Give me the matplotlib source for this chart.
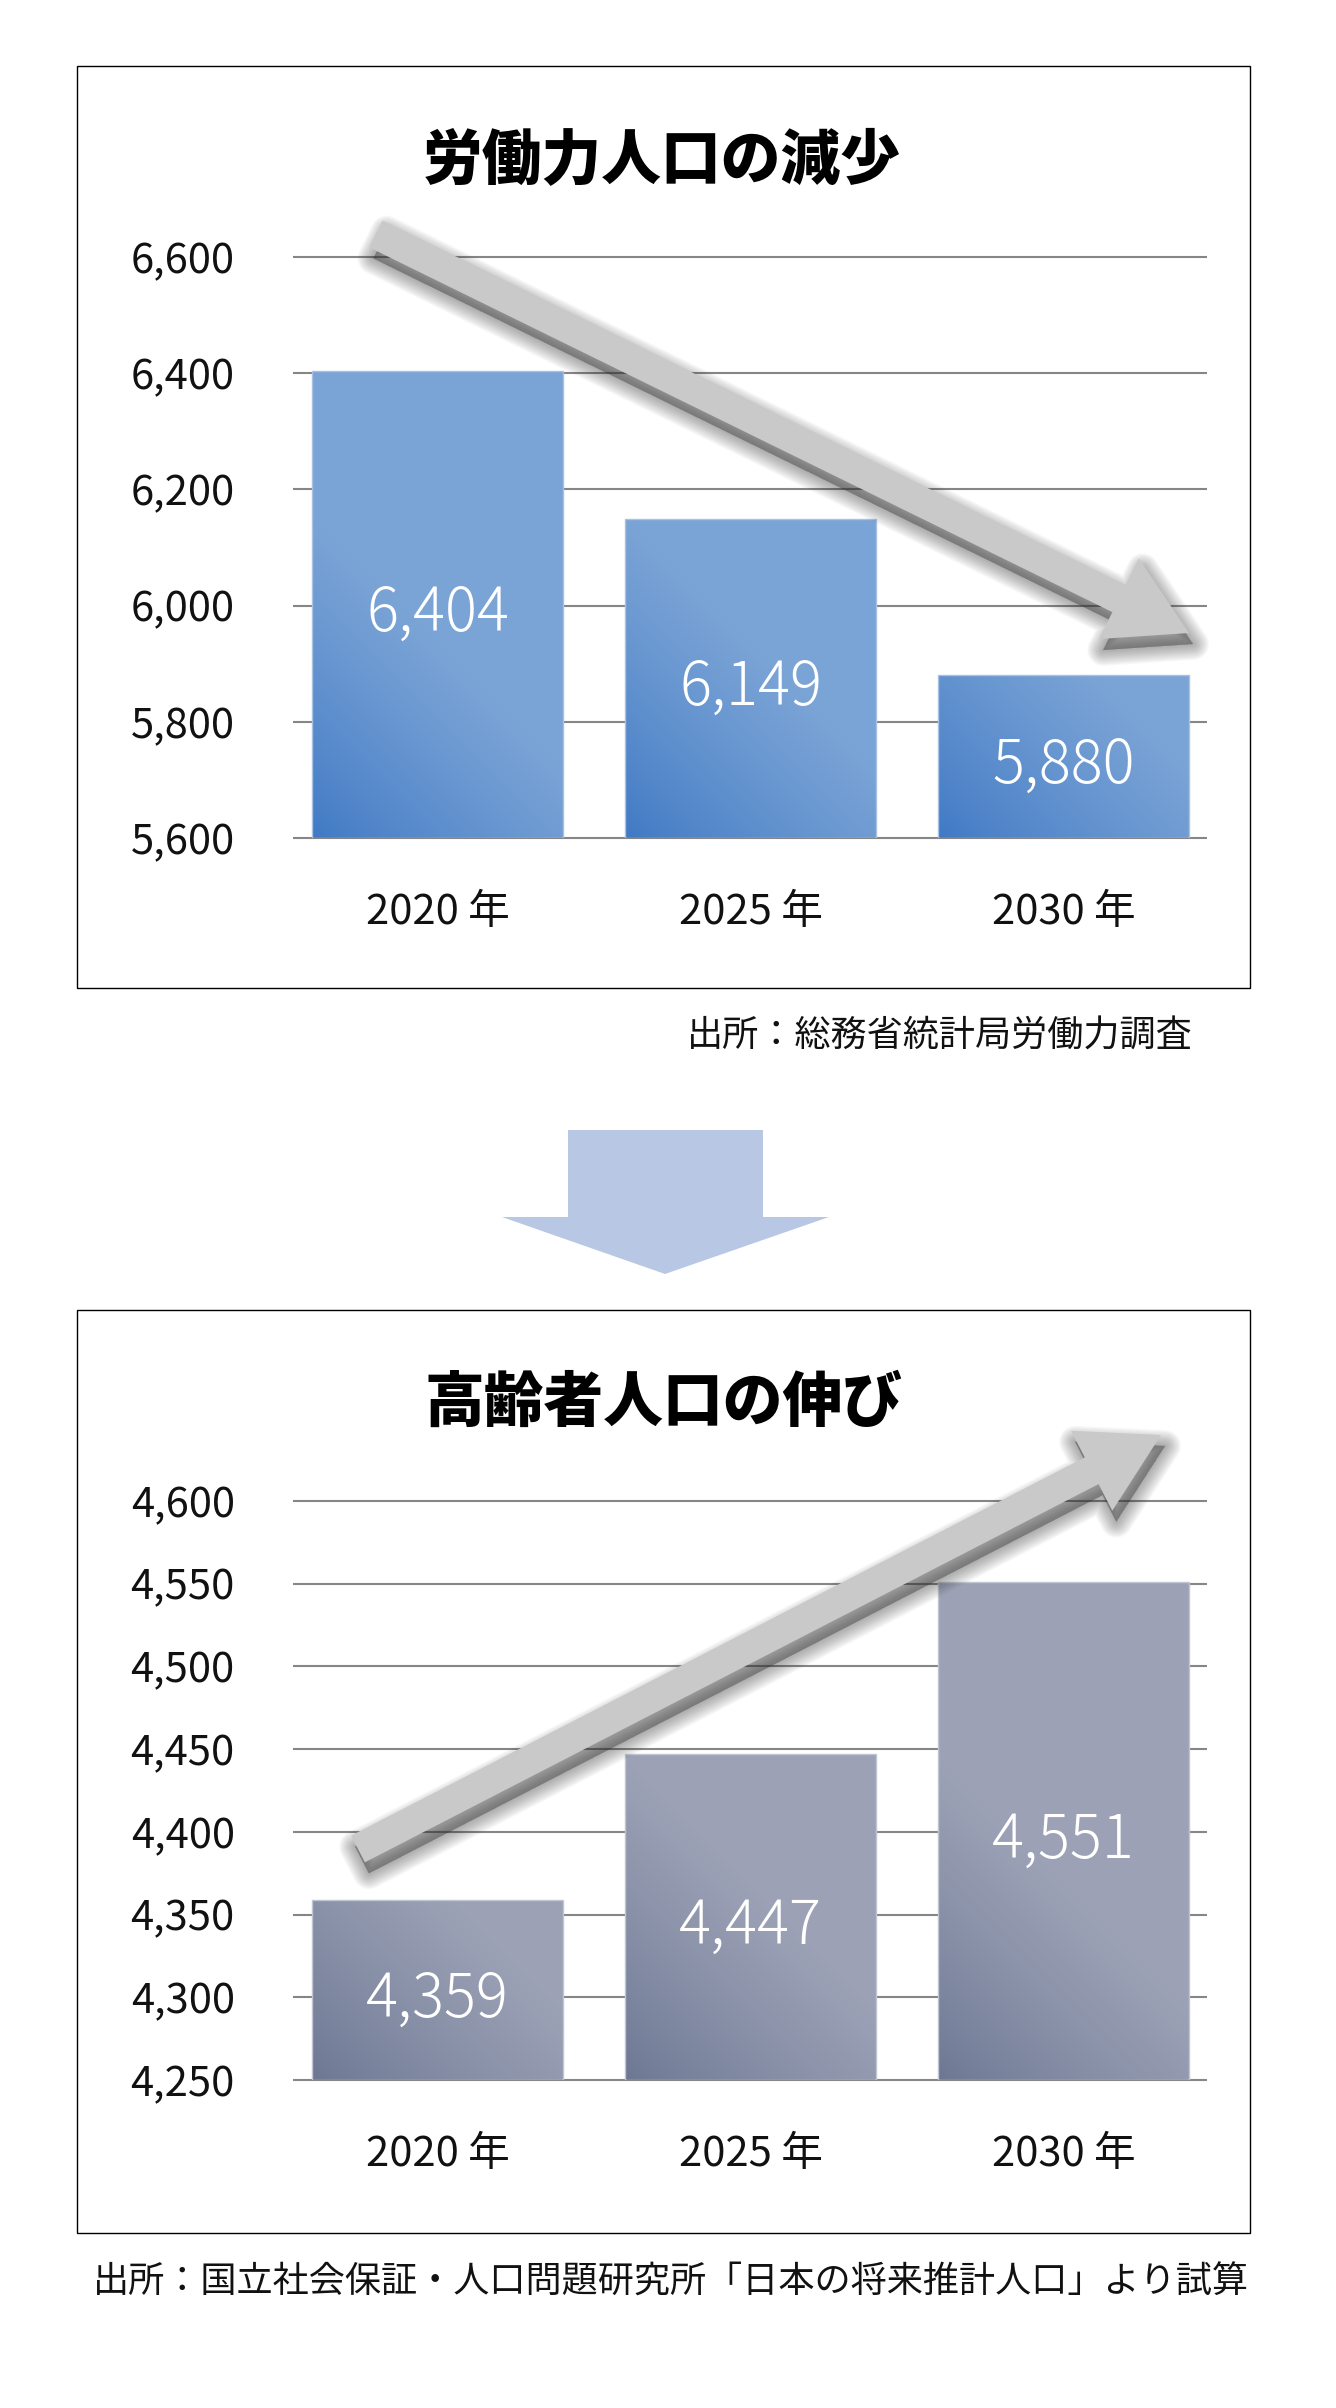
import numpy as np
import matplotlib
matplotlib.use('Agg')
import matplotlib.pyplot as plt
from matplotlib.patches import Polygon, Rectangle
from matplotlib.colors import to_rgb
from matplotlib.transforms import offset_copy

plt.rcParams['font.family'] = ['Noto Sans CJK JP', 'DejaVu Sans']

# data
years = ['2020 年', '2025 年', '2030 年']
labor_force = [6404, 6149, 5880]
labor_ticks = [5600, 5800, 6000, 6200, 6400, 6600]
elderly = [4359, 4447, 4551]
elderly_ticks = [4250, 4300, 4350, 4400, 4450, 4500, 4550, 4600]

title_top = '労働力人口の減少'
title_bottom = '高齢者人口の伸び'
source_top = '出所：総務省統計局労働力調査'
source_bottom = '出所：国立社会保証・人口問題研究所「日本の将来推計人口」より試算'

W, H = 1336, 2408
fig = plt.figure(figsize=(W / 100, H / 100), dpi=100)
fig.patch.set_facecolor('white')


def px_rect(l, t, r, b):
    return [l / W, 1 - b / H, (r - l) / W, (b - t) / H]


def gradient_bars(ax, values, ticks, dark, light, edge):
    base = ticks[0]
    x = np.arange(len(values))
    heights = [v - base for v in values]
    bars = ax.bar(x, heights, bottom=base, width=0.802, facecolor='none',
                  edgecolor=edge, linewidth=1.0, zorder=3)
    ax.set_xlim(-0.4617, len(values) - 1 + 0.4585)
    ax.set_ylim(ticks[0], ticks[-1])
    fig.canvas.draw()
    dark = np.array(to_rgb(dark))
    light = np.array(to_rgb(light))
    for patch in bars:
        x0, y0 = patch.get_x(), patch.get_y()
        x1, y1 = x0 + patch.get_width(), y0 + patch.get_height()
        p0 = ax.transData.transform((x0, y0))
        p1 = ax.transData.transform((x1, y1))
        wpx, hpx = int(abs(p1[0] - p0[0])) + 1, int(abs(p1[1] - p0[1])) + 1
        xx, yy = np.meshgrid(np.arange(wpx), np.arange(hpx))
        g = np.clip((xx + yy) / 320.0, 0, 1) ** 0.8
        img = dark[None, None, :] * (1 - g[..., None]) + light[None, None, :] * g[..., None]
        im = ax.imshow(img, origin='lower', extent=(x0, x1, y0, y1), aspect='auto',
                       interpolation='bilinear', zorder=2)
        im.set_clip_path(patch)
    return bars


def setup_axes(ax, values, ticks, dark, light, edge):
    ax.set_facecolor('none')
    for s in ax.spines.values():
        s.set_visible(False)
    gradient_bars(ax, values, ticks, dark, light, edge)
    ax.hlines(ticks, ax.get_xlim()[0], ax.get_xlim()[1], colors='#868686',
              linewidth=1.5, zorder=1, clip_on=False)
    ax.set_yticks(ticks)
    ax.set_yticklabels([f'{t:,}' for t in ticks])
    ax.set_xticks(range(len(values)))
    ax.set_xticklabels(years)
    ax.tick_params(axis='y', length=0, pad=42, labelsize=30, labelcolor='#111111')
    ax.tick_params(axis='x', length=0, pad=39, labelsize=30, labelcolor='#111111')
    base = ticks[0]
    shifted = offset_copy(ax.transData, fig=fig, x=0, y=-10, units='dots')
    for i, v in enumerate(values):
        ax.text(i, (base + v) / 2, f'{v:,}', ha='center', va='center', transform=shifted,
                color='white', fontsize=43, fontweight='light', zorder=4)


ax1 = fig.add_axes(px_rect(293, 257, 1207, 838))
setup_axes(ax1, labor_force, labor_ticks, '#3e78c4', '#7ba4d6', '#a9c1e2')

ax2 = fig.add_axes(px_rect(293, 1501, 1207, 2080))
setup_axes(ax2, elderly, elderly_ticks, '#6b7692', '#9ca2b6', '#c0c5d2')

# overlay in pixel coordinates for frames, arrows and titles
ov = fig.add_axes([0, 0, 1, 1], zorder=10)
ov.set_xlim(0, W)
ov.set_ylim(H, 0)
ov.axis('off')
ov.patch.set_alpha(0)

for (l, t, r, b) in [(77, 66, 1250, 988), (77, 1310, 1250, 2233)]:
    ov.add_patch(Rectangle((l, t), r - l, b - t, fill=False, edgecolor='black', linewidth=1.0))

ov.text(662, 161, title_top, ha='center', va='center', fontsize=43, fontweight='heavy', color='black')
ov.text(663, 1403, title_bottom, ha='center', va='center', fontsize=43, fontweight='heavy', color='black')
ov.text(1193, 1037, source_top, ha='right', va='center', fontsize=26, color='#111111')
ov.text(671, 2283, source_bottom, ha='center', va='center', fontsize=26, color='#111111')

# block arrow between charts
down = [(568, 1130), (763, 1130), (763, 1217), (829, 1217), (665, 1274), (502, 1217), (568, 1217)]
ov.add_patch(Polygon(down, closed=True, facecolor='#b8c8e4', edgecolor='none'))


def arrow_poly(tail, tip, hw_shaft=15, hw_head=45, head_len=78):
    tail, tip = np.array(tail, float), np.array(tip, float)
    d = tip - tail
    u = d / np.hypot(*d)
    n = np.array([-u[1], u[0]])
    base = tip - u * head_len
    return np.array([tail + n * hw_shaft, base + n * hw_shaft, base + n * hw_head, tip,
                     base - n * hw_head, base - n * hw_shaft, tail - n * hw_shaft])


def shadow_arrow(tail, tip):
    pts = arrow_poly(tail, tip)
    sh = pts + np.array([4, 11])
    for w in np.linspace(32, 0, 18):
        ov.add_patch(Polygon(sh, closed=True, facecolor='#3a3a3a', edgecolor='#3a3a3a',
                             linewidth=w * 0.72, alpha=0.026, joinstyle='round'))
    ov.add_patch(Polygon(pts, closed=True, facecolor='#c9c9c9', edgecolor='none'))


shadow_arrow((376, 234), (1189, 633))
shadow_arrow((358, 1849), (1161, 1435))

fig.savefig('out.png', dpi=100, facecolor='white')
